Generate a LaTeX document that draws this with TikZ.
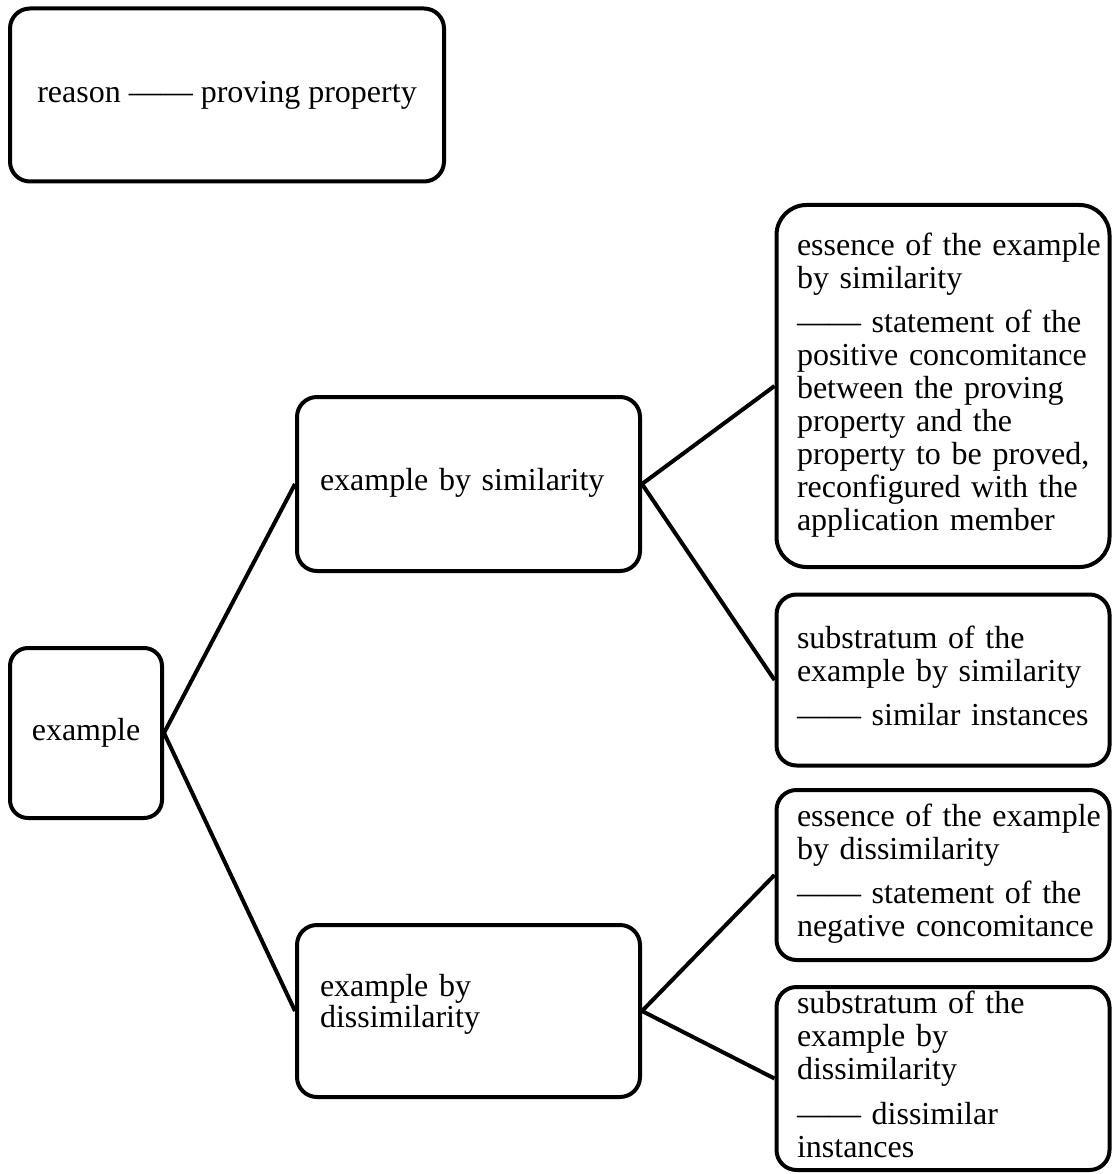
\documentclass[tikz,border=0pt]{standalone}
\usepackage{fontspec}
\setmainfont{Liberation Serif}
\newcommand{\lines}[1]{\begin{tabular}{@{}l@{}}#1\end{tabular}}
\begin{document}
\begin{tikzpicture}[x=1pt,y=-1pt,
  box/.style={draw, line width=4pt, rounded corners=#1, inner ysep=0pt,
    font=\fontsize{32}{33}\selectfont, anchor=center},
  box/.default=20pt,
  leftbox/.style={box=#1, align=left, text width=297pt, inner xsep=23pt, minimum width=343pt},
  leftbox/.default=20pt,
  rightbox/.style={box=#1, align=left, text width=292pt, inner xsep=20.5pt, minimum width=333pt},
  rightbox/.default=20pt,
  link/.style={line width=4pt}]
\useasboundingbox (0,0) rectangle (1113,1174);

\node[box, align=center, minimum width=434pt, minimum height=173pt] (reason) at (227,95)
  {reason —— proving property};

\node[box=18pt, align=center, minimum width=152pt, minimum height=170pt] (example) at (86,733) {example};

\node[leftbox, minimum height=174pt] (sim) at (468.5,484) {\lines{example by similarity}};
\node[leftbox, minimum height=172pt, font=\fontsize{32}{31}\selectfont] (dis) at (468.5,1011)
  {\lines{example by\\dissimilarity}\rule[-36pt]{0pt}{0pt}};

\node[rightbox=30pt, minimum height=362pt] (ess1) at (943,386)
  {\lines{essence of the example\\by similarity\\[11pt]—— statement of the\\positive concomitance\\between the proving\\property and the\\property to be proved,\\reconfigured with the\\application member}};
\node[rightbox, minimum height=171pt] (sub1) at (943,680)
  {\lines{substratum of the\\example by similarity\\[11pt]—— similar instances}};
\node[rightbox, minimum height=170pt] (ess2) at (943,875)
  {\lines{essence of the example\\by dissimilarity\\[11pt]—— statement of the\\negative concomitance}};
\node[rightbox, minimum height=183pt] (sub2) at (943,1078.5)
  {\lines{substratum of the\\example by\\dissimilarity\\[12pt]—— dissimilar\\instances}};

\draw[link] (example.east) -- (sim.west);
\draw[link] (example.east) -- (dis.west);
\draw[link] (sim.east) -- (ess1.west);
\draw[link] (sim.east) -- (sub1.west);
\draw[link] (dis.east) -- (ess2.west);
\draw[link] (dis.east) -- (sub2.west);
\end{tikzpicture}
\end{document}
